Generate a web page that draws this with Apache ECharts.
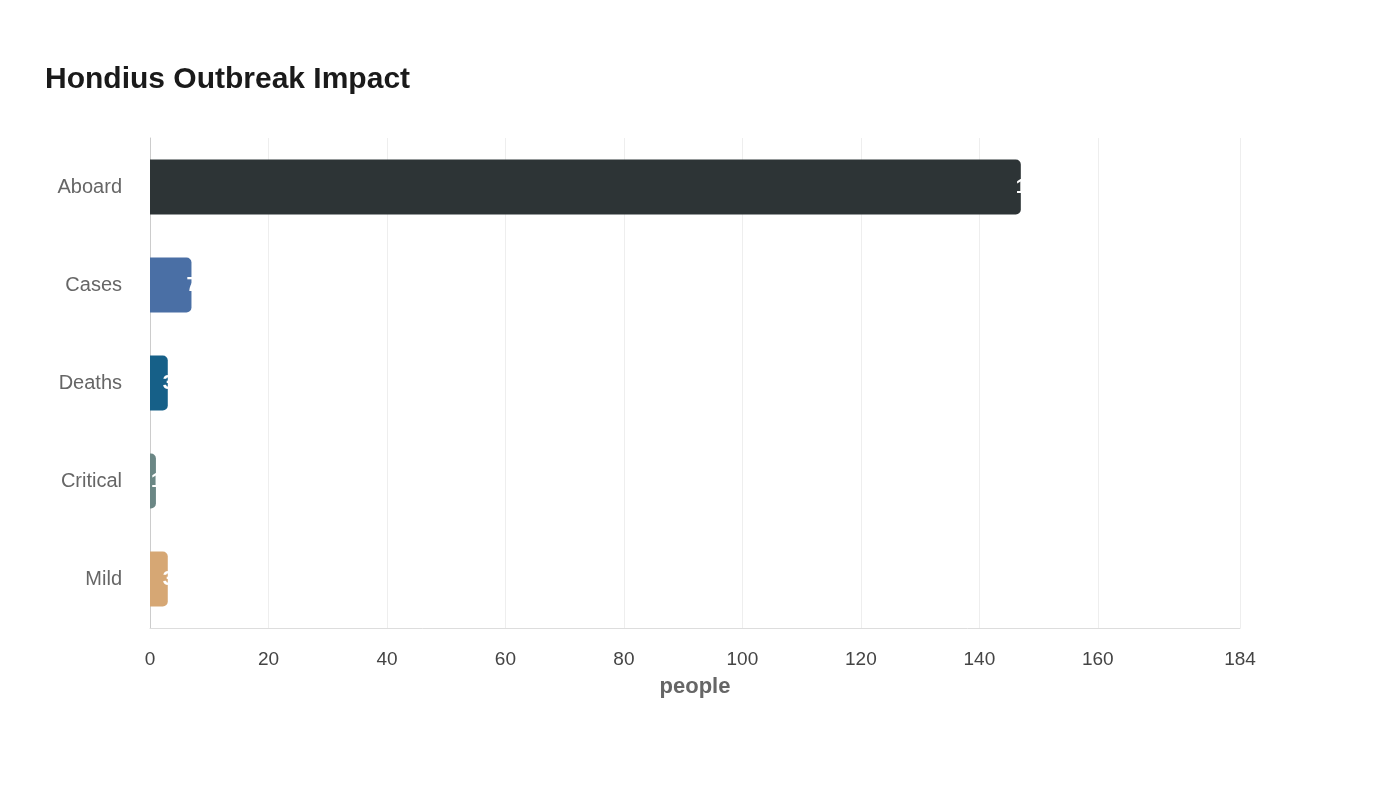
<!DOCTYPE html>
<html><head><meta charset="utf-8">
<script src="https://cdn.jsdelivr.net/npm/echarts@6/dist/echarts.min.js"></script>
<style>html,body{margin:0;background:#fff}#c{width:1400px;height:800px}</style>
</head><body><div id="c"></div>
<script>
var categories = ['Aboard', 'Cases', 'Deaths', 'Critical', 'Mild'];
var values = [147, 7, 3, 1, 3];
var colors = ['#2d3436', '#4a6fa5', '#166088', '#6b8785', '#d6a774'];
var tickValues = [0, 20, 40, 60, 80, 100, 120, 140, 160, 184];

var chart = echarts.init(document.getElementById('c'));
chart.setOption({
  title: {text: 'Hondius Outbreak Impact', left: 40, top: 60,
    textStyle: {fontFamily: 'Liberation Sans', fontSize: 30, fontWeight: 'bold', color: '#1a1a1a'}},
  grid: {left: 150, right: 160, top: 138, bottom: 172},
  xAxis: {
    type: 'value', min: 0, max: 184,
    name: 'people', nameLocation: 'middle', nameGap: 48,
    nameTextStyle: {fontFamily: 'Liberation Sans', fontSize: 22, fontWeight: 'bold', color: '#666'},
    axisLine: {show: true, lineStyle: {color: '#ddd'}},
    axisTick: {show: false, customValues: tickValues},
    axisLabel: {customValues: tickValues, fontFamily: 'Liberation Sans', fontSize: 19, color: '#444', margin: 22},
    splitLine: {lineStyle: {color: '#eee'}}
  },
  yAxis: {
    type: 'category', data: categories, inverse: true,
    axisLine: {lineStyle: {color: '#ccc'}},
    axisTick: {show: false},
    axisLabel: {fontFamily: 'Liberation Sans', fontSize: 20, color: '#666', margin: 28}
  },
  series: [{
    type: 'bar', barWidth: 55,
    data: values.map(function (v, i) { return {value: v, itemStyle: {color: colors[i]}}; }),
    itemStyle: {borderRadius: [0, 5, 5, 0]},
    label: {show: true, position: 'right', distance: -5, color: '#fff',
      fontFamily: 'Liberation Sans', fontSize: 20, fontWeight: 'bold'}
  }]
});
</script></body></html>
